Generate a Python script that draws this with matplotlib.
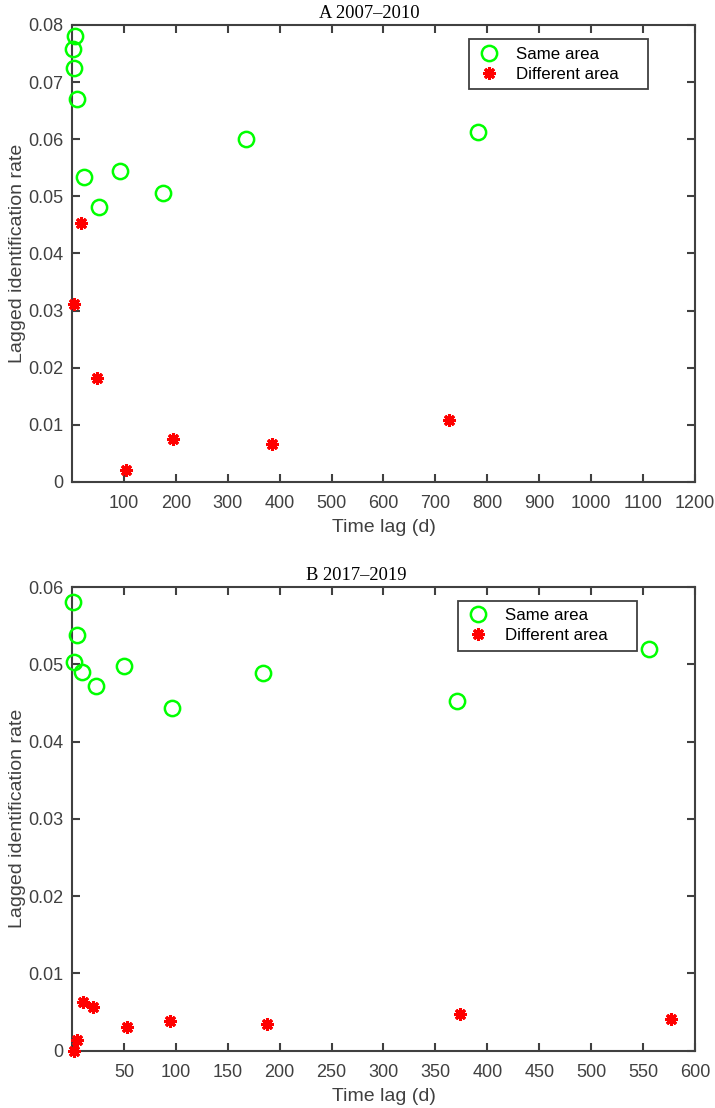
import matplotlib
matplotlib.use("Agg")
import matplotlib.pyplot as plt

# panel A 2007-2010
a_same_x = [1, 3, 6, 10, 23, 52, 93, 176, 336, 783]
a_same_y = [0.0757, 0.0725, 0.0781, 0.0670, 0.0533, 0.0481, 0.0544, 0.0506, 0.0601, 0.0612]
a_diff_x = [3, 17, 48, 104, 194, 386, 726]
a_diff_y = [0.0312, 0.0453, 0.0182, 0.0021, 0.0076, 0.0067, 0.0109]

# panel B 2017-2019
b_same_x = [1, 2, 4.5, 10, 23, 50, 96, 184, 371, 556]
b_same_y = [0.0581, 0.0503, 0.0538, 0.0490, 0.0472, 0.0498, 0.0443, 0.0489, 0.0453, 0.0520]
b_diff_x = [2, 5, 11, 20, 53, 94, 188, 374, 577]
b_diff_y = [0.0000, 0.0014, 0.0063, 0.0056, 0.0031, 0.0038, 0.0035, 0.0047, 0.0041]

a_xticks = list(range(100, 1201, 100))
a_yticks = [0, 0.01, 0.02, 0.03, 0.04, 0.05, 0.06, 0.07, 0.08]
b_xticks = list(range(50, 601, 50))
b_yticks = [0, 0.01, 0.02, 0.03, 0.04, 0.05, 0.06]

axcol = "#404040"
plt.rcParams["font.family"] = ["Liberation Sans", "DejaVu Sans"]

fig = plt.figure(figsize=(7.15, 11.08), dpi=100)
ax1 = fig.add_axes([0.1007, 0.565, 0.8713, 0.4125])
ax2 = fig.add_axes([0.1007, 0.0517, 0.8713, 0.4185])


def ylab(v):
    return "0" if v == 0 else "%.2f" % v


def panel(ax, title, title_x, sx, sy, dx, dy, xt, yt, xmax, ymax, leg_box):
    ax.plot(sx, sy, "o", ms=11, mfc="none", mec="#00ff00", mew=1.8,
            ls="none", label="Same area", clip_on=False, zorder=3)
    ax.plot(dx, dy, marker=(8, 2, 0), ms=9, mec="#ff0000", mew=2.2,
            ls="none", label="Different area", clip_on=False, zorder=3)
    ax.set_xlim(0, xmax)
    ax.set_ylim(0, ymax)
    ax.set_xticks(xt)
    ax.set_yticks(yt)
    ax.set_yticklabels([ylab(v) for v in yt])
    ax.tick_params(direction="in", length=6, width=1.5, top=True, right=True,
                   labelsize=13, colors=axcol, labelcolor=axcol, pad=6)
    ax.tick_params(axis="x", pad=9.5)
    for s in ax.spines.values():
        s.set_color(axcol)
        s.set_linewidth(1.5)
    ax.set_xlabel("Time lag (d)", fontsize=14, color=axcol, labelpad=5)
    ax.set_ylabel("Lagged identification rate", fontsize=14, color=axcol,
                  labelpad=2)
    ax.set_title(title, fontsize=13.3, family=["Liberation Serif"], pad=5,
                 x=title_x)
    leg = ax.legend(loc="upper left", bbox_to_anchor=leg_box, mode="expand",
                    fontsize=12.2, fancybox=False, framealpha=1,
                    edgecolor=axcol, handlelength=1.5, handletextpad=0.82,
                    borderpad=0.45, labelspacing=0.3, borderaxespad=0)
    leg.get_frame().set_linewidth(1.3)


panel(ax1, "A 2007\u20132010", 0.477, a_same_x, a_same_y, a_diff_x, a_diff_y,
      a_xticks, a_yticks, 1200, 0.08, (0.637, 0.9694, 0.2873, 0.0))
panel(ax2, "B 2017\u20132019", 0.456, b_same_x, b_same_y, b_diff_x, b_diff_y,
      b_xticks, b_yticks, 600, 0.06, (0.6196, 0.9705, 0.2873, 0.0))

fig.savefig("out.png", dpi=100)
